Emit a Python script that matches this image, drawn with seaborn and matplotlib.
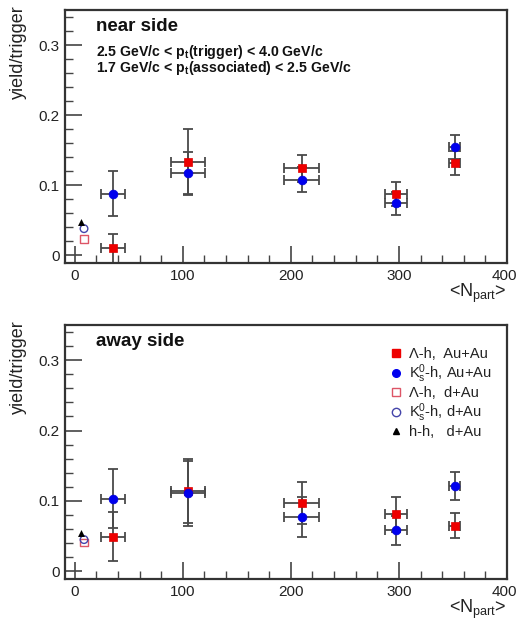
import numpy as np
import pandas as pd
import matplotlib
matplotlib.use("Agg")
import matplotlib.pyplot as plt
import matplotlib.transforms as mtransforms
import seaborn as sns
from matplotlib.ticker import MultipleLocator, FixedLocator
from matplotlib.lines import Line2D

sns.set_theme(style="white")
plt.rcParams['font.family'] = ['Liberation Sans', 'DejaVu Sans']
plt.rcParams['mathtext.fontset'] = 'custom'
plt.rcParams['mathtext.rm'] = 'Liberation Sans'
plt.rcParams['mathtext.it'] = 'Liberation Sans:italic'
plt.rcParams['mathtext.bf'] = 'Liberation Sans:bold'

# ---------------- data ----------------
npart = [35.5, 105, 210, 297.5, 351.5]
npart_err = [11, 16, 16, 10, 5]

near_lam = [0.010, 0.133, 0.124, 0.088, 0.132]
near_lam_err = [0.021, 0.047, 0.019, 0.017, 0.017]
near_k0 = [0.088, 0.118, 0.108, 0.074, 0.155]
near_k0_err = [0.032, 0.030, 0.018, 0.017, 0.017]

away_lam = [0.049, 0.114, 0.097, 0.081, 0.065]
away_lam_err = [0.035, 0.046, 0.030, 0.025, 0.018]
away_k0 = [0.103, 0.111, 0.077, 0.058, 0.121]
away_k0_err = [0.042, 0.046, 0.029, 0.021, 0.020]

dau_x = [8.6, 8.6, 5.8]
dau_labels = ["lam_dau", "k0_dau", "hh_dau"]
near_dau = [0.023, 0.038, 0.047]
away_dau = [0.041, 0.045, 0.054]

xtick_labels = ["0", "100", "200", "300", "400"]
ytick_labels = ["0", "0.1", "0.2", "0.3"]

legend_labels = ["Λ-h,  Au+Au", r"K$^0_\mathrm{s}$-h, Au+Au",
                 "Λ-h,  d+Au", r"K$^0_\mathrm{s}$-h, d+Au", "h-h,   d+Au"]

W, H = 518, 621
fig = plt.figure(figsize=(W / 100, H / 100), dpi=100)
ax1 = fig.add_axes([65 / W, 1 - 263 / H, (507 - 65) / W, (263 - 10) / H])
ax2 = fig.add_axes([65 / W, 1 - 579 / H, (507 - 65) / W, (579 - 325) / H])

ecol = "#4a4a4a"


def panel(ax, lam, lam_err, k0, k0_err, dau, title, title_y):
    df = pd.DataFrame({
        "npart": npart * 2,
        "y": lam + k0,
        "series": ["lam"] * len(npart) + ["k0"] * len(npart),
    })
    ax.errorbar(npart, lam, xerr=npart_err, yerr=lam_err, fmt="none",
                ecolor=ecol, elinewidth=1.3, capsize=3.5, capthick=1.3, zorder=2)
    ax.errorbar(npart, k0, xerr=npart_err, yerr=k0_err, fmt="none",
                ecolor=ecol, elinewidth=1.3, capsize=3.5, capthick=1.3, zorder=2)
    sns.scatterplot(data=df[df.series == "lam"], x="npart", y="y", ax=ax,
                    marker="s", color="#ee0000", s=34, edgecolor="#dd0000",
                    linewidth=0.5, zorder=3, legend=False)
    sns.scatterplot(data=df[df.series == "k0"], x="npart", y="y", ax=ax,
                    marker="o", color="#0000ee", s=40, edgecolor="#0000dd",
                    linewidth=0.5, zorder=4, legend=False)
    dd = pd.DataFrame({"npart": dau_x, "y": dau, "series": dau_labels})
    sns.scatterplot(data=dd[dd.series == "lam_dau"], x="npart", y="y", ax=ax,
                    marker="s", facecolor="none", edgecolor="#dd5566", s=30,
                    linewidth=1.0, zorder=3, legend=False)
    sns.scatterplot(data=dd[dd.series == "k0_dau"], x="npart", y="y", ax=ax,
                    marker="o", facecolor="none", edgecolor="#4444aa", s=30,
                    linewidth=1.0, zorder=3, legend=False)
    sns.scatterplot(data=dd[dd.series == "hh_dau"], x="npart", y="y", ax=ax,
                    marker="^", color="black", s=25, linewidth=0, zorder=3,
                    legend=False)

    ax.set_xlim(-9, 400)
    ax.set_ylim(-0.011, 0.35)
    ax.set_xlabel("")
    ax.set_ylabel("")
    ax.xaxis.set_major_locator(FixedLocator([0, 100, 200, 300, 400]))
    ax.xaxis.set_minor_locator(MultipleLocator(20))
    ax.yaxis.set_major_locator(FixedLocator([0, 0.1, 0.2, 0.3]))
    ax.yaxis.set_minor_locator(MultipleLocator(0.02))
    ax.set_xticklabels(xtick_labels)
    ax.set_yticklabels(ytick_labels)
    ax.tick_params(axis="both", which="major", direction="in", length=12,
                   width=1.2, color="#444444", labelsize=11, labelcolor="#222222",
                   bottom=True, left=True, top=False, right=False, pad=4)
    ax.tick_params(axis="both", which="minor", direction="in", length=6,
                   width=1.0, color="#444444", bottom=True, left=True,
                   top=False, right=False)
    # nudge the last x tick label slightly inside the figure
    lbl = ax.get_xticklabels()[-1]
    lbl.set_transform(lbl.get_transform() +
                      mtransforms.ScaledTranslation(-3 / 100, 0, fig.dpi_scale_trans))
    for sp in ax.spines.values():
        sp.set_color("#333333")
        sp.set_linewidth(1.6)
    ax.set_facecolor("white")
    ax.text(-0.106, 1.02, "yield/trigger", transform=ax.transAxes,
            fontsize=13, rotation=90, ha="center", va="top", color="#222222")
    ax.text(1.0, -0.075, r"<N$_{\rm part}$>", transform=ax.transAxes,
            fontsize=13, ha="right", va="top", color="#222222")
    ax.text(0.07, title_y, title, transform=ax.transAxes, fontsize=13.5,
            fontweight="bold", ha="left", va="center", color="#111111")


panel(ax1, near_lam, near_lam_err, near_k0, near_k0_err, near_dau,
      "near side", 0.935)
panel(ax2, away_lam, away_lam_err, away_k0, away_k0_err, away_dau,
      "away side", 0.935)

ax1.text(0.07, 0.835, r"2.5 GeV/c < p$_{\mathbf{t}}$(trigger) < 4.0 GeV/c",
         transform=ax1.transAxes, fontsize=10.2, fontweight="bold",
         ha="left", va="center", color="#111111")
ax1.text(0.07, 0.77, r"1.7 GeV/c < p$_{\mathbf{t}}$(associated) < 2.5 GeV/c",
         transform=ax1.transAxes, fontsize=10.2, fontweight="bold",
         ha="left", va="center", color="#111111")

handles = [
    Line2D([], [], ls="none", marker="s", color="#ee0000", markersize=5.5),
    Line2D([], [], ls="none", marker="o", color="#0000ee", markersize=5.5),
    Line2D([], [], ls="none", marker="s", mfc="none", mec="#dd5566", markersize=6),
    Line2D([], [], ls="none", marker="o", mfc="none", mec="#4444aa", markersize=6),
    Line2D([], [], ls="none", marker="^", color="black", markersize=5),
]
leg = ax2.legend(handles, legend_labels, loc="upper left",
                 bbox_to_anchor=(0.72, 0.935), frameon=False, fontsize=10.5,
                 handletextpad=0.4, labelspacing=0.08, handlelength=1.0,
                 borderaxespad=0)
for t in leg.get_texts():
    t.set_color("#222222")

fig.savefig("out.png", dpi=100, facecolor="white")
